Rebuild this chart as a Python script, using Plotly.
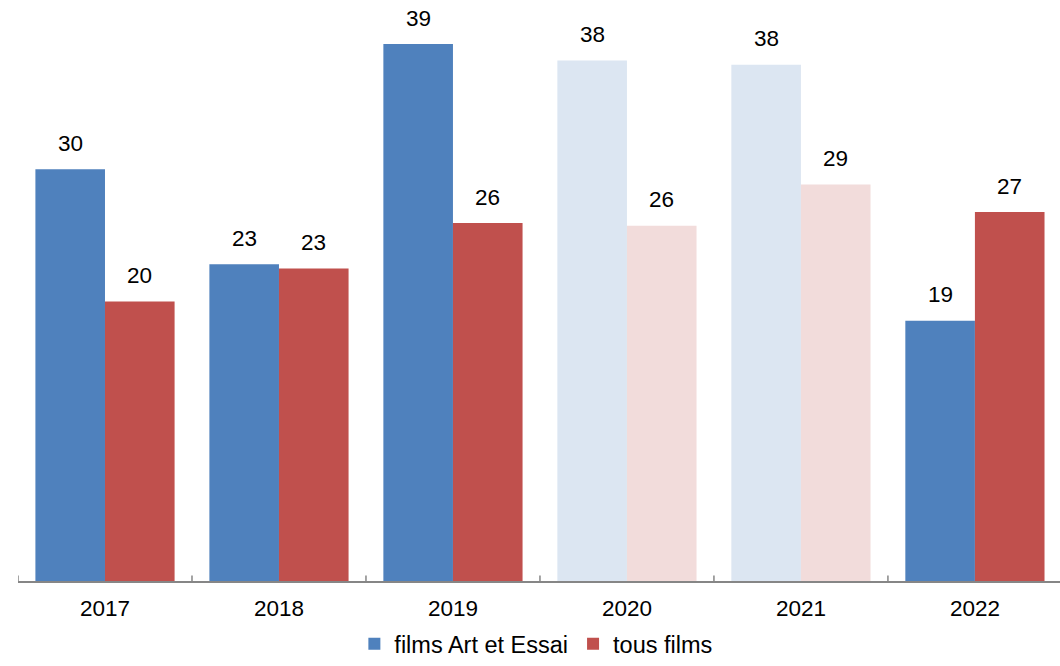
import plotly.graph_objects as go

years = ["2017", "2018", "2019", "2020", "2021", "2022"]
art_essai = [29.9, 23.0, 39.0, 37.8, 37.5, 18.9]
tous_films = [20.3, 22.7, 26.0, 25.8, 28.8, 26.8]
art_labels = ["30", "23", "39", "38", "38", "19"]
tous_labels = ["20", "23", "26", "26", "29", "27"]

blue, blue_light = "#4F81BD", "#DCE6F2"
red, red_light = "#C0504D", "#F2DCDB"
faded = ["2020", "2021"]

art_colors = [blue_light if y in faded else blue for y in years]
tous_colors = [red_light if y in faded else red for y in years]

fig = go.Figure()
fig.add_trace(go.Bar(x=years, y=art_essai, name="films Art et Essai",
                     marker=dict(color=art_colors, line=dict(width=0))))
fig.add_trace(go.Bar(x=years, y=tous_films, name="tous films",
                     marker=dict(color=tous_colors, line=dict(width=0))))

FONT = "Liberation Sans, Arial, sans-serif"
# category axis: annotations positioned by category index
for i, (v, t) in enumerate(zip(art_essai, art_labels)):
    fig.add_annotation(x=i, y=v, text=t, xref="x", yref="y", showarrow=False,
                       xshift=-34.8, yshift=26, font=dict(size=22.5, color="black", family=FONT))
for i, (v, t) in enumerate(zip(tous_films, tous_labels)):
    fig.add_annotation(x=i, y=v, text=t, xref="x", yref="y", showarrow=False,
                       xshift=34.8, yshift=26, font=dict(size=22.5, color="black", family=FONT))

# category boundary tick marks (inside, pointing up)
for i in range(len(years) + 1):
    fig.add_shape(type="line", xref="x", yref="paper", x0=i - 0.5, x1=i - 0.5,
                  y0=0, y1=0.0095, line=dict(color="#868686", width=1.5))

fig.update_layout(
    width=1060, height=666,
    margin=dict(l=18, r=0, t=0, b=85, autoexpand=False),
    paper_bgcolor="white", plot_bgcolor="white",
    barmode="group", bargap=0.2, bargroupgap=0,
    font=dict(family=FONT, size=22.5, color="black"),
    showlegend=True,
    legend=dict(orientation="h", x=0.497, xanchor="center", yref="container", y=-0.015,
                yanchor="bottom", font=dict(size=23.5, color="black", family=FONT),
                itemwidth=30, traceorder="normal", borderwidth=0),
    xaxis=dict(type="category", range=[-0.5, 5.489], showline=True, linecolor="#868686",
               linewidth=1.5, ticks="", showgrid=False, tickfont=dict(size=22.5, color="black"),
               ticklabelstandoff=6),
    yaxis=dict(range=[0, 42.2], showticklabels=False, showline=False, ticks="",
               showgrid=False, zeroline=False),
)

fig.write_html("out.html", config={"displayModeBar": False},
               post_script="document.body.style.margin='0';")
